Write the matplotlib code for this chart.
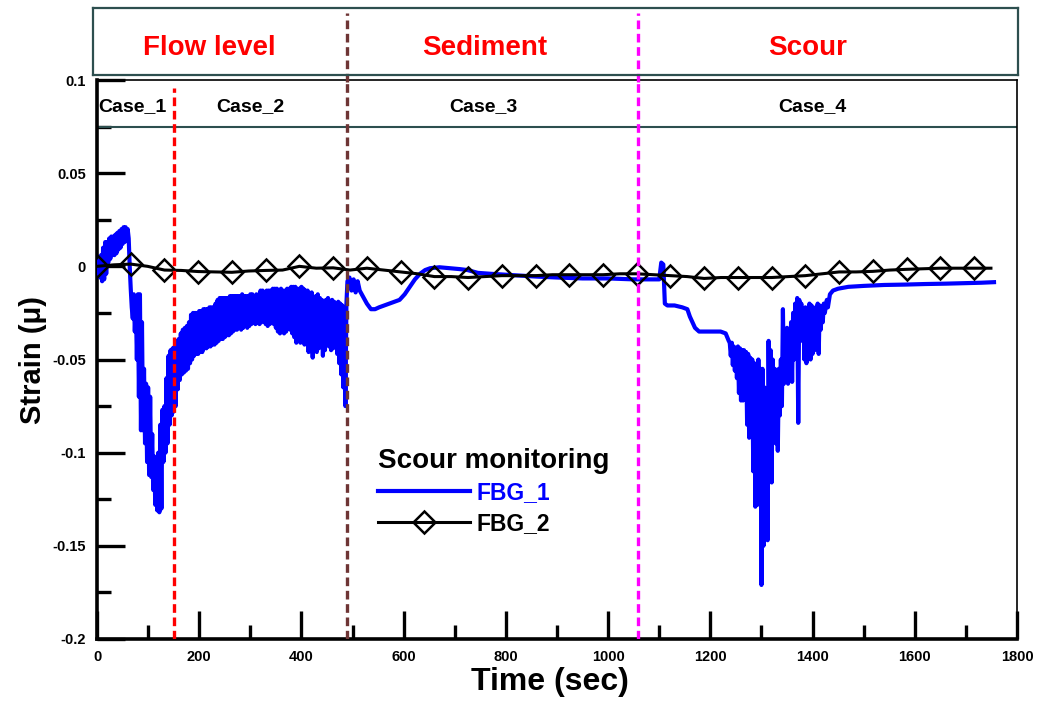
import matplotlib
matplotlib.use("Agg")
import matplotlib.pyplot as plt
from matplotlib.ticker import MultipleLocator

plt.rcParams['font.family'] = ['Liberation Sans', 'DejaVu Sans']
plt.rcParams['font.weight'] = 'bold'

# --- data ---
# FBG_1: strain (noisy sensor, blue)
fbg1_time = [
    0, 2, 4, 6, 8, 10, 12, 14, 16, 18, 20, 22, 24, 26, 28, 30, 32, 34, 36, 38,
    40, 42, 44, 46, 48, 50, 52, 54, 56, 58, 60, 62, 64, 66, 68, 70, 72, 74, 76, 78,
    80, 82, 84, 86, 88, 90, 92, 94, 96, 98, 100, 102, 104, 106, 108, 110, 112, 114, 116, 118,
    120, 122, 124, 126, 128, 130, 132, 134, 136, 138, 140, 142, 144, 146, 148, 150, 152, 154, 156, 158,
    160, 162, 164, 166, 168, 170, 172, 174, 176, 178, 180, 182, 184, 186, 188, 190, 192, 194, 196, 198,
    200, 202, 204, 206, 208, 210, 212, 214, 216, 218, 220, 222, 224, 226, 228, 230, 232, 234, 236, 238,
    240, 242, 244, 246, 248, 250, 252, 254, 256, 258, 260, 262, 264, 266, 268, 270, 272, 274, 276, 278,
    280, 282, 284, 286, 288, 290, 292, 294, 296, 298, 300, 302, 304, 306, 308, 310, 312, 314, 316, 318,
    320, 322, 324, 326, 328, 330, 332, 334, 336, 338, 340, 342, 344, 346, 348, 350, 352, 354, 356, 358,
    360, 362, 364, 366, 368, 370, 372, 374, 376, 378, 380, 382, 384, 386, 388, 390, 392, 394, 396, 398,
    400, 402, 404, 406, 408, 410, 412, 414, 416, 418, 420, 422, 424, 426, 428, 430, 432, 434, 436, 438,
    440, 442, 444, 446, 448, 450, 452, 454, 456, 458, 460, 462, 464, 466, 468, 470, 472, 474, 476, 478,
    480, 482, 484, 486, 488, 490,
    494, 498, 502, 506, 510, 514, 520, 528, 536, 544, 552, 562, 572, 582, 592, 602, 612, 622, 632, 642,
    652, 670, 690, 710, 725, 745, 770, 800, 830, 860, 900, 950, 1000, 1050, 1100, 1104, 1108, 1111, 1116, 1130,
    1145, 1155, 1160, 1165, 1170, 1178, 1200, 1220, 1230, 1236,
    1238, 1240, 1242, 1244, 1246, 1248, 1250, 1252, 1254, 1256, 1258, 1260, 1262, 1264, 1266, 1268, 1270, 1272, 1274, 1276,
    1278, 1280, 1282, 1284, 1286, 1288, 1290, 1292, 1294, 1296, 1298, 1300, 1302, 1304, 1306, 1308, 1310, 1312, 1314, 1316,
    1318, 1320, 1322, 1324, 1326, 1328, 1330, 1332, 1334, 1336, 1338, 1340, 1342, 1344, 1346, 1348, 1350, 1352, 1354, 1356,
    1358, 1360, 1362, 1364, 1366, 1368, 1370, 1372, 1374, 1376, 1378, 1380, 1382, 1384, 1386, 1388, 1390, 1392, 1394, 1396,
    1398, 1400, 1402, 1404, 1406, 1408, 1410, 1412, 1414, 1416, 1418, 1420, 1422, 1424, 1428, 1430, 1434, 1440, 1450, 1470,
    1500, 1540, 1580, 1620, 1660, 1700, 1730, 1755,
]
fbg1_strain = [
    0.000, -0.004, 0.003, -0.006, 0.006, -0.008, 0.010, -0.007, 0.013, -0.004,
    0.013, 0.002, 0.015, 0.004, 0.016, 0.006, 0.016, 0.006, 0.017, 0.007,
    0.018, 0.009, 0.019, 0.010, 0.020, 0.012, 0.021, 0.013, 0.021, 0.014,
    0.020, 0.015, 0.000, -0.012, -0.022, -0.028, -0.015, -0.035, -0.020, -0.050,
    -0.015, -0.070, -0.015, -0.088, -0.030, -0.088, -0.055, -0.095, -0.063, -0.105,
    -0.065, -0.112, -0.070, -0.113, -0.090, -0.120, -0.102, -0.128, -0.105, -0.131,
    -0.100, -0.132, -0.085, -0.130, -0.077, -0.105, -0.075, -0.100, -0.060, -0.095,
    -0.048, -0.085, -0.045, -0.080, -0.044, -0.078, -0.043, -0.075, -0.040, -0.066,
    -0.039, -0.061, -0.036, -0.058, -0.034, -0.057, -0.033, -0.056, -0.032, -0.055,
    -0.030, -0.052, -0.026, -0.050, -0.025, -0.048, -0.025, -0.047, -0.025, -0.047,
    -0.024, -0.046, -0.024, -0.046, -0.023, -0.044, -0.023, -0.044, -0.023, -0.043,
    -0.022, -0.043, -0.022, -0.042, -0.022, -0.042, -0.020, -0.041, -0.018, -0.040,
    -0.017, -0.039, -0.017, -0.039, -0.017, -0.038, -0.017, -0.037, -0.017, -0.037,
    -0.016, -0.036, -0.016, -0.035, -0.016, -0.034, -0.016, -0.034, -0.016, -0.033,
    -0.016, -0.034, -0.015, -0.033, -0.016, -0.032, -0.016, -0.033, -0.016, -0.032,
    -0.015, -0.031, -0.015, -0.030, -0.016, -0.031, -0.015, -0.030, -0.016, -0.031,
    -0.013, -0.030, -0.013, -0.029, -0.014, -0.031, -0.013, -0.032, -0.013, -0.031,
    -0.013, -0.030, -0.012, -0.031, -0.012, -0.033, -0.012, -0.035, -0.013, -0.036,
    -0.012, -0.034, -0.013, -0.036, -0.013, -0.035, -0.012, -0.033, -0.012, -0.034,
    -0.011, -0.036, -0.011, -0.038, -0.011, -0.041, -0.012, -0.039, -0.012, -0.041,
    -0.011, -0.040, -0.012, -0.042, -0.013, -0.040, -0.013, -0.046, -0.015, -0.044,
    -0.014, -0.049, -0.018, -0.045, -0.016, -0.046, -0.015, -0.044, -0.017, -0.043,
    -0.018, -0.048, -0.019, -0.045, -0.018, -0.042, -0.017, -0.043, -0.019, -0.045,
    -0.018, -0.044, -0.019, -0.043, -0.020, -0.047, -0.019, -0.052, -0.020, -0.058,
    -0.021, -0.065, -0.022, -0.075, -0.020, -0.008,
    -0.006, -0.013, -0.007, -0.014, -0.008, -0.013, -0.016, -0.020, -0.023, -0.023,
    -0.022, -0.021, -0.020, -0.019, -0.018, -0.015, -0.011, -0.007, -0.004, -0.002,
    -0.001, -0.0005, -0.001, -0.0015, -0.002, -0.0035, -0.004, -0.0045, -0.005, -0.0055,
    -0.006, -0.0065, -0.0065, -0.007, -0.007, 0.002, 0.001, -0.020, -0.021, -0.021,
    -0.022, -0.023, -0.027, -0.030, -0.033, -0.035, -0.035, -0.035, -0.036, -0.040,
    -0.041, -0.048, -0.041, -0.053, -0.043, -0.056, -0.044, -0.060, -0.043, -0.068,
    -0.044, -0.072, -0.045, -0.072, -0.045, -0.068, -0.046, -0.085, -0.047, -0.092,
    -0.049, -0.090, -0.050, -0.110, -0.052, -0.129, -0.055, -0.128, -0.050, -0.125,
    -0.055, -0.171, -0.055, -0.150, -0.065, -0.145, -0.070, -0.147, -0.040, -0.100,
    -0.045, -0.116, -0.050, -0.090, -0.055, -0.095, -0.060, -0.099, -0.055, -0.080,
    -0.050, -0.075, -0.023, -0.063, -0.035, -0.060, -0.033, -0.063, -0.036, -0.055,
    -0.030, -0.062, -0.025, -0.050, -0.020, -0.035, -0.017, -0.084, -0.018, -0.030,
    -0.020, -0.040, -0.023, -0.050, -0.022, -0.052, -0.025, -0.045, -0.020, -0.050,
    -0.021, -0.047, -0.024, -0.045, -0.022, -0.040, -0.020, -0.047, -0.021, -0.034,
    -0.023, -0.030, -0.020, -0.025, -0.018, -0.022, -0.015, -0.013, -0.012, -0.011,
    -0.0105, -0.010, -0.0098, -0.0095, -0.0093, -0.009, -0.0088, -0.0085,
]

# FBG_2: strain (black, diamond markers every other sample)
fbg2_time = [
    0, 33, 66, 99, 132, 165, 198, 231, 264, 297, 330, 363, 396, 429, 462, 495, 528, 561,
    594, 627, 660, 693, 726, 759, 792, 825, 858, 891, 924, 957, 990, 1023, 1056, 1089,
    1122, 1155, 1188, 1221, 1254, 1287, 1320, 1353, 1386, 1419, 1452, 1485, 1518, 1551,
    1584, 1617, 1650, 1683, 1716, 1749,
]
fbg2_strain = [
    0.000, 0.0008, 0.0012, 0.000, -0.002, -0.0022, -0.0028, -0.003, -0.0032, -0.0025,
    -0.0022, -0.002, 0.000, -0.001, -0.0008, -0.002, -0.001, -0.002, -0.003, -0.004,
    -0.0055, -0.0055, -0.006, -0.0055, -0.005, -0.005, -0.005, -0.0045, -0.0045, -0.0045,
    -0.0045, -0.004, -0.004, -0.0045, -0.005, -0.0055, -0.0065, -0.006, -0.006, -0.006,
    -0.006, -0.0055, -0.005, -0.004, -0.003, -0.003, -0.0027, -0.002, -0.0016, -0.0013,
    -0.001, -0.001, -0.001, -0.001,
]

# stage boundaries (sec) and labels
stage_lines = [150, 490, 1058]
stage_colors = ['#ff0000', '#6e3535', '#ff00ff']
case_labels = ['Case_1', 'Case_2', 'Case_3', 'Case_4']
case_pos = [70, 299, 755, 1399]
phase_labels = ['Flow level', 'Sediment', 'Scour']
phase_pos = [219, 759, 1391]

xticks = [0, 200, 400, 600, 800, 1000, 1200, 1400, 1600, 1800]
yticks = [-0.2, -0.15, -0.1, -0.05, 0, 0.05, 0.1]
ytick_labels = ['-0.2', '-0.15', '-0.1', '-0.05', '0', '0.05', '0.1']

teal = '#2d4f4f'
dash = (0, (2.6, 1.4))

fig = plt.figure(figsize=(10.4, 7.04), dpi=100)
ax = fig.add_axes([97 / 1040, 1 - 639 / 704, 920 / 1040, 559 / 704])
ax_top = fig.add_axes([93 / 1040, 1 - 75 / 704, 925 / 1040, 67 / 704])

# --- main plot ---
ax.plot(fbg1_time, fbg1_strain, color='#0000ff', lw=3.0, label='FBG_1', zorder=3)
ax.plot(fbg2_time, fbg2_strain, color='black', lw=2.2, marker='D', ms=11,
        mfc='none', mec='black', mew=1.8, markevery=2, label='FBG_2', zorder=4)

ax.set_xlim(0, 1800)
ax.set_ylim(-0.2, 0.1)

# case strip inside the axes
ax.axhline(0.075, color=teal, lw=1.5, zorder=2)
for lbl, x in zip(case_labels, case_pos):
    ax.text(x, 0.0832, lbl, ha='center', va='baseline', fontsize=14, fontweight='bold')

# stage separators
ax.axvline(stage_lines[0], ymax=0.985, color=stage_colors[0], lw=2.4, ls=dash, zorder=5)
for x, c in zip(stage_lines[1:], stage_colors[1:]):
    ax.axvline(x, color=c, lw=2.4, ls=dash, zorder=5)

# spines and ticks
for side in ['left', 'bottom']:
    ax.spines[side].set_linewidth(2.6)
for side in ['top', 'right']:
    ax.spines[side].set_linewidth(1.2)

ax.set_xticks(xticks)
ax.set_yticks(yticks)
ax.set_yticklabels(ytick_labels)
ax.xaxis.set_minor_locator(MultipleLocator(100))
ax.yaxis.set_minor_locator(MultipleLocator(0.025))
ax.tick_params(which='major', direction='in', length=20, width=2.4, labelsize=10.5, pad=8)
ax.tick_params(which='minor', direction='in', length=10, width=2.4)

ax.set_xlabel('Time (sec)', fontsize=23, fontweight='bold', labelpad=2)
ax.xaxis.label.set_x(0.492)
ax.set_ylabel('Strain (\u03bc)', fontsize=21, fontweight='bold', labelpad=4)

leg = ax.legend(title='Scour monitoring', loc='upper left', bbox_to_anchor=(378 / 1040, 1 - 448 / 704),
                bbox_transform=fig.transFigure, frameon=False,
                prop={'weight': 'bold', 'size': 16.5},
                title_fontproperties={'weight': 'bold', 'size': 20},
                handlelength=4.0, handletextpad=0.3, labelspacing=0.32,
                borderpad=0, borderaxespad=0, alignment='left')
leg.get_texts()[0].set_color('#0000ff')

# --- phase strip above the axes ---
ax_top.set_xlim(-7.8, 1802)
ax_top.set_ylim(0, 1)
ax_top.set_xticks([])
ax_top.set_yticks([])
for s in ax_top.spines.values():
    s.set_color(teal)
    s.set_linewidth(1.6)
for x, c in zip(stage_lines[1:], stage_colors[1:]):
    ax_top.axvline(x, ymin=-0.1, ymax=0.93, color=c, lw=2.4, ls=dash, clip_on=False)
for lbl, x in zip(phase_labels, phase_pos):
    ax_top.text(x, 0.30, lbl, color='#ff0000', ha='center', va='baseline',
                fontsize=20, fontweight='bold')

fig.savefig('out.png', dpi=100)
